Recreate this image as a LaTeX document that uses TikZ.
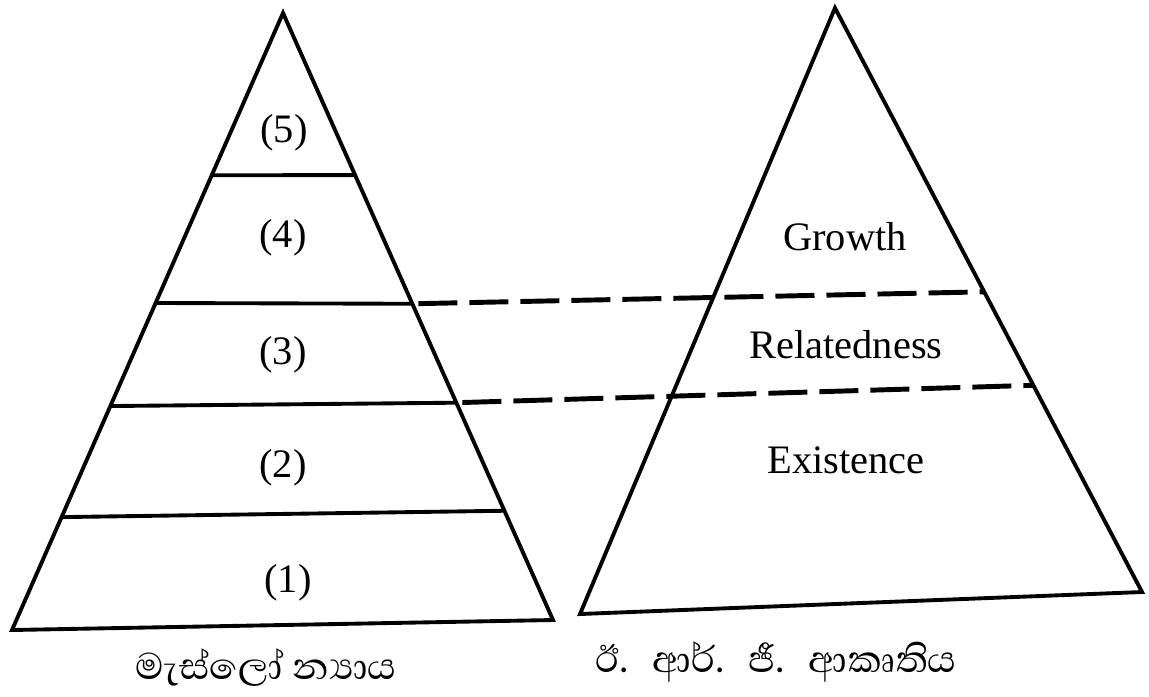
\documentclass[tikz,border=0pt]{standalone}
\usepackage{fontspec}
\setmainfont{Liberation Serif}
\newfontfamily\sinhala[Script=Sinhala]{Abhaya Libre}
\usetikzlibrary{calc}
\tikzset{
  side/.style={line width=1.1pt},
  erg/.style={line width=1.4pt, dash pattern=on 0.39cm off 0.12cm, dash phase=-0.06cm},
  lvl/.style={font=\fontsize{11.5}{13}\selectfont},
  caption/.style={font=\sinhala\fontsize{13.5}{16}\selectfont},
}

\begin{document}
\begin{tikzpicture}[x=0.01cm,y=-0.01cm]
    \useasboundingbox (0,0) rectangle (1149,696);
    % Maslow
    \coordinate (ma) at (283,13);
    \coordinate (mbl) at (12,630);
    \coordinate (mbr) at (553,620);
    \draw[side] (ma) -- (mbl) -- (mbr) -- cycle;
    \coordinate (m5l) at ($(ma)!0.263!(mbl)$);
    \coordinate (m5r) at ($(ma)!0.267!(mbr)$);
    \coordinate (m4l) at ($(ma)!0.470!(mbl)$);
    \coordinate (m4r) at ($(ma)!0.479!(mbr)$);
    \coordinate (m3l) at ($(ma)!0.637!(mbl)$);
    \coordinate (m3r) at ($(ma)!0.642!(mbr)$);
    \coordinate (m2l) at ($(ma)!0.817!(mbl)$);
    \coordinate (m2r) at ($(ma)!0.820!(mbr)$);
    \draw[side] (m5l) -- (m5r) (m4l) -- (m4r) (m3l) -- (m3r) (m2l) -- (m2r);
    \node[lvl] at(284,133)(n5){(5)};
    \node[lvl] at(283,238)(n4){(4)};
    \node[lvl] at(283,355)(n3){(3)};
    \node[lvl] at(283,468)(n2){(2)};
    \node[lvl] at(288,583)(n1){(1)};
    \node[caption] at(266,668)(maslow){මැස්ලෝ න්‍යාය};
    % ERG
    \coordinate (ra) at (835,8);
    \coordinate (rbl) at (580,614);
    \coordinate (rbr) at (1142,592);
    \draw[side] (ra) -- (rbl) -- (rbr) -- cycle;
    \coordinate (g1) at ($(ra)!0.486!(rbr)$);
    \coordinate (g2) at ($(ra)!0.646!(rbr)$);
    \draw[erg] (m4r) -- (g1) (m3r) -- (g2);
    \node[lvl] at(845,237)(growth){Growth};
    \node[lvl] at(846,345)(related){Relatedness};
    \node[lvl] at(846,460)(exist){Existence};
    \node[caption] at(776,662)(ergname){ඊ.\hspace{0.5em}ආර්.\hspace{0.5em}ජී.\hspace{0.5em}ආකෘතිය};
\end{tikzpicture}
\end{document}
